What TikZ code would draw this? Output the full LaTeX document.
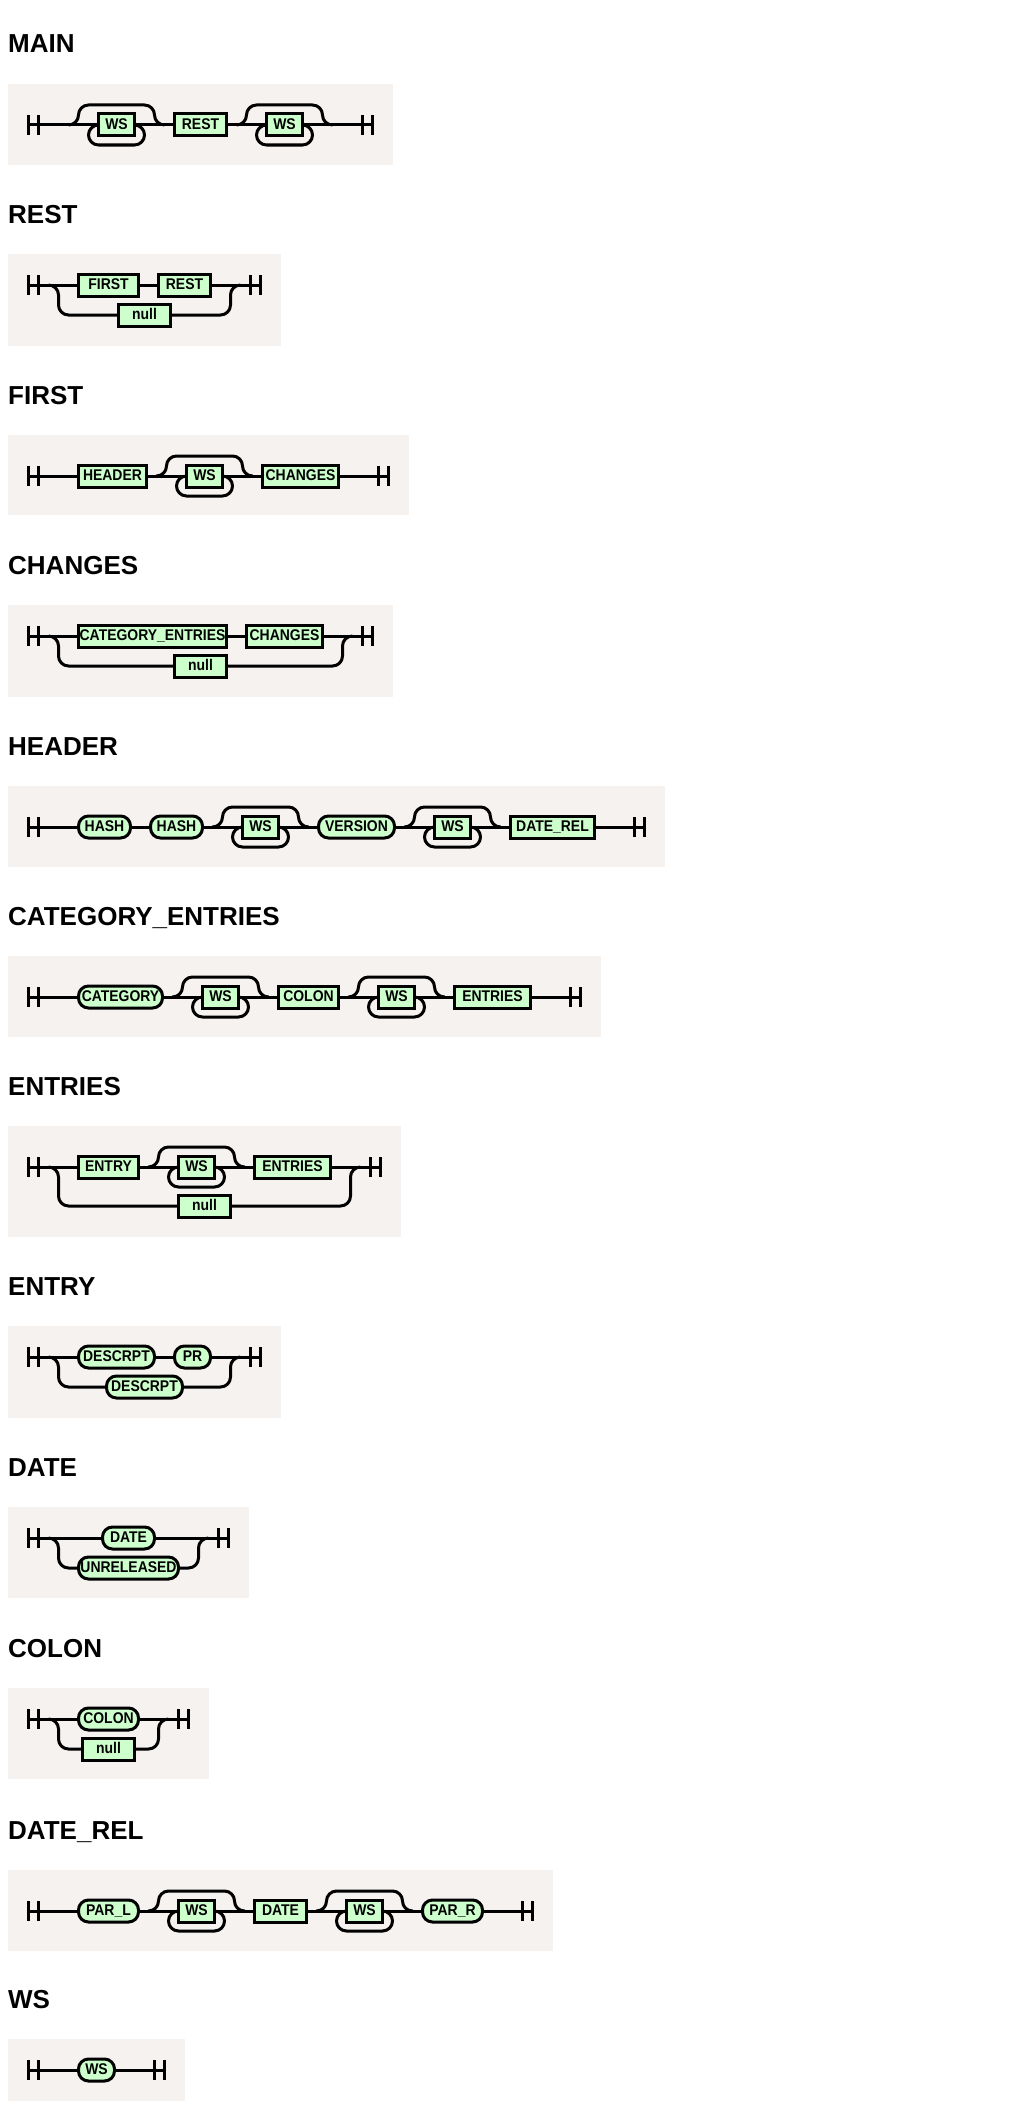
\documentclass[tikz,border=0pt]{standalone}
\usepackage{fontspec}
\setmainfont{Liberation Sans}
\newfontfamily\boxfont[FakeStretch=0.9]{Liberation Sans}
\usetikzlibrary{positioning}
\definecolor{panelgray}{RGB}{245,242,240}
\definecolor{boxgreen}{RGB}{204,255,204}
\tikzstyle{rail} = [line width=3pt, line join=round]
\tikzstyle{loop} = [rail, rounded corners=10pt]
\tikzstyle{box} = [rectangle, draw=black, fill=boxgreen, line width=3pt, minimum height=22pt, inner sep=0pt, outer sep=0pt, text height=11pt, text depth=3pt, font=\boxfont\bfseries\fontsize{15.5}{15.5}\selectfont]
\tikzstyle{nt} = [box]
\tikzstyle{term} = [box, rounded corners=10pt]
\tikzstyle{panel} = [fill=panelgray]
\tikzstyle{title} = [anchor=base west, inner sep=0pt, font=\bfseries\fontsize{26}{26}\selectfont]
\tikzset{len/.style={minimum width=8*#1+20}}
% start / end marker
\newcommand{\railbars}[1]{\draw[rail] ([yshift=10pt]#1) -- ([yshift=-10pt]#1) ([xshift=10pt,yshift=10pt]#1) -- ([xshift=10pt,yshift=-10pt]#1);}
% zero or more: skip above, repeat below
\newcommand{\wsloop}[1]{%
\draw[loop] ([xshift=-30pt]#1.west) -| ([xshift=-20pt,yshift=20pt]#1.west) -| ([xshift=20pt]#1.east) -- ([xshift=30pt]#1.east);
\draw[loop] (#1.east) -| ([xshift=10pt,yshift=-20pt]#1.east) -| ([xshift=-10pt]#1.west) -- (#1.west);}
% second branch of a choice
\newcommand{\railchoice}[4]{%
\draw[loop] ([xshift=20pt]#1) -| ([xshift=30pt,yshift=-#4pt]#1) -- (#2.west);
\draw[loop] (#2.east) -| ([xshift=-20pt]#3) -- ([xshift=-10pt]#3);}
\begin{document}
\begin{tikzpicture}[x=1pt, y=-1pt, node distance=20pt]
\useasboundingbox[fill=white] (0,0) rectangle (1024,2114);

\fill[panel] (8,84) rectangle (392.5,165);
\fill[panel] (8,254) rectangle (280.5,346);
\fill[panel] (8,435) rectangle (408.5,515);
\fill[panel] (8,605) rectangle (392.5,697);
\fill[panel] (8,786) rectangle (664.5,867);
\fill[panel] (8,956) rectangle (600.5,1037);
\fill[panel] (8,1126) rectangle (400.5,1237);
\fill[panel] (8,1326) rectangle (280.5,1418);
\fill[panel] (8,1507) rectangle (248.5,1598);
\fill[panel] (8,1688) rectangle (208.5,1779);
\fill[panel] (8,1870) rectangle (552.5,1951);
\fill[panel] (8,2039) rectangle (184.5,2101);

% MAIN
\node (ttlmain) [title] at (8,53) {MAIN};
\coordinate (mainin) at (28.5,125);
\node (mainws1) [nt, len=2, right=70pt of mainin] {WS};
\node (mainrest) [nt, len=4, right=40pt of mainws1] {REST};
\node (mainws2) [nt, len=2, right=40pt of mainrest] {WS};
\coordinate [right=60pt of mainws2] (mainout);
\draw[rail] (mainin) -- (mainws1);
\draw[rail] (mainws1) -- (mainrest);
\draw[rail] (mainrest) -- (mainws2);
\draw[rail] (mainws2) -- (mainout) -- ++(10,0);
\wsloop{mainws1}
\wsloop{mainws2}
\railbars{mainin}
\railbars{mainout}

% REST
\node (ttlrest) [title] at (8,223) {REST};
\coordinate (restin) at (28.5,285);
\node (restfirst) [nt, len=5, right=50pt of restin] {FIRST};
\node (restrest) [nt, len=4, right=of restfirst] {REST};
\node (restnull) [nt, len=4] at (144.5,315) {null};
\coordinate [right=40pt of restrest] (restout);
\draw[rail] (restin) -- (restfirst);
\draw[rail] (restfirst) -- (restrest);
\draw[rail] (restrest) -- (restout) -- ++(10,0);
\railchoice{restin}{restnull}{restout}{30}
\railbars{restin}
\railbars{restout}

% FIRST
\node (ttlfirst) [title] at (8,404) {FIRST};
\coordinate (firstin) at (28.5,476);
\node (firstheader) [nt, len=6, right=50pt of firstin] {HEADER};
\node (firstws) [nt, len=2, right=40pt of firstheader] {WS};
\node (firstchanges) [nt, len=7, right=40pt of firstws] {CHANGES};
\coordinate [right=40pt of firstchanges] (firstout);
\draw[rail] (firstin) -- (firstheader);
\draw[rail] (firstheader) -- (firstws);
\draw[rail] (firstws) -- (firstchanges);
\draw[rail] (firstchanges) -- (firstout) -- ++(10,0);
\wsloop{firstws}
\railbars{firstin}
\railbars{firstout}

% CHANGES
\node (ttlchg) [title] at (8,574) {CHANGES};
\coordinate (chgin) at (28.5,636);
\node (chgcat) [nt, len=16, right=50pt of chgin] {CATEGORY\_ENTRIES};
\node (chgchanges) [nt, len=7, right=of chgcat] {CHANGES};
\node (chgnull) [nt, len=4] at (200.5,666) {null};
\coordinate [right=40pt of chgchanges] (chgout);
\draw[rail] (chgin) -- (chgcat);
\draw[rail] (chgcat) -- (chgchanges);
\draw[rail] (chgchanges) -- (chgout) -- ++(10,0);
\railchoice{chgin}{chgnull}{chgout}{30}
\railbars{chgin}
\railbars{chgout}

% HEADER
\node (ttlhdr) [title] at (8,755) {HEADER};
\coordinate (hdrin) at (28.5,827);
\node (hdrhash1) [term, len=4, right=50pt of hdrin] {HASH};
\node (hdrhash2) [term, len=4, right=of hdrhash1] {HASH};
\node (hdrws1) [nt, len=2, right=40pt of hdrhash2] {WS};
\node (hdrversion) [term, len=7, right=40pt of hdrws1] {VERSION};
\node (hdrws2) [nt, len=2, right=40pt of hdrversion] {WS};
\node (hdrdaterel) [nt, len=8, right=40pt of hdrws2] {DATE\_REL};
\coordinate [right=40pt of hdrdaterel] (hdrout);
\draw[rail] (hdrin) -- (hdrhash1);
\draw[rail] (hdrhash1) -- (hdrhash2);
\draw[rail] (hdrhash2) -- (hdrws1);
\draw[rail] (hdrws1) -- (hdrversion);
\draw[rail] (hdrversion) -- (hdrws2);
\draw[rail] (hdrws2) -- (hdrdaterel);
\draw[rail] (hdrdaterel) -- (hdrout) -- ++(10,0);
\wsloop{hdrws1}
\wsloop{hdrws2}
\railbars{hdrin}
\railbars{hdrout}

% CATEGORY_ENTRIES
\node (ttlcat) [title] at (8,925) {CATEGORY\_ENTRIES};
\coordinate (catin) at (28.5,997);
\node (catcategory) [term, len=8, right=50pt of catin] {CATEGORY};
\node (catws1) [nt, len=2, right=40pt of catcategory] {WS};
\node (catcolon) [nt, len=5, right=40pt of catws1] {COLON};
\node (catws2) [nt, len=2, right=40pt of catcolon] {WS};
\node (catentries) [nt, len=7, right=40pt of catws2] {ENTRIES};
\coordinate [right=40pt of catentries] (catout);
\draw[rail] (catin) -- (catcategory);
\draw[rail] (catcategory) -- (catws1);
\draw[rail] (catws1) -- (catcolon);
\draw[rail] (catcolon) -- (catws2);
\draw[rail] (catws2) -- (catentries);
\draw[rail] (catentries) -- (catout) -- ++(10,0);
\wsloop{catws1}
\wsloop{catws2}
\railbars{catin}
\railbars{catout}

% ENTRIES
\node (ttlents) [title] at (8,1095) {ENTRIES};
\coordinate (entsin) at (28.5,1167);
\node (entsentry) [nt, len=5, right=50pt of entsin] {ENTRY};
\node (entsws) [nt, len=2, right=40pt of entsentry] {WS};
\node (entsentries) [nt, len=7, right=40pt of entsws] {ENTRIES};
\node (entsnull) [nt, len=4] at (204.5,1206) {null};
\coordinate [right=40pt of entsentries] (entsout);
\draw[rail] (entsin) -- (entsentry);
\draw[rail] (entsentry) -- (entsws);
\draw[rail] (entsws) -- (entsentries);
\draw[rail] (entsentries) -- (entsout) -- ++(10,0);
\wsloop{entsws}
\railchoice{entsin}{entsnull}{entsout}{39}
\railbars{entsin}
\railbars{entsout}

% ENTRY
\node (ttlent) [title] at (8,1295) {ENTRY};
\coordinate (entin) at (28.5,1357);
\node (entdescrpt) [term, len=7, right=50pt of entin] {DESCRPT};
\node (entpr) [term, len=2, right=of entdescrpt] {PR};
\node (entdescrptb) [term, len=7] at (144.5,1387) {DESCRPT};
\coordinate [right=40pt of entpr] (entout);
\draw[rail] (entin) -- (entdescrpt);
\draw[rail] (entdescrpt) -- (entpr);
\draw[rail] (entpr) -- (entout) -- ++(10,0);
\railchoice{entin}{entdescrptb}{entout}{30}
\railbars{entin}
\railbars{entout}

% DATE
\node (ttldate) [title] at (8,1476) {DATE};
\coordinate (datein) at (28.5,1538);
\node (datedate) [term, len=4, right=74pt of datein] {DATE};
\node (dateunrel) [term, len=10, below=8pt of datedate] {UNRELEASED};
\coordinate [right=64pt of datedate] (dateout);
\draw[rail] (datein) -- (datedate);
\draw[rail] (datedate) -- (dateout) -- ++(10,0);
\railchoice{datein}{dateunrel}{dateout}{30}
\railbars{datein}
\railbars{dateout}

% COLON
\node (ttlcol) [title] at (8,1657) {COLON};
\coordinate (colin) at (28.5,1719);
\node (colcolon) [term, len=5, right=50pt of colin] {COLON};
\node (colnull) [nt, len=4, below=8pt of colcolon] {null};
\coordinate [right=40pt of colcolon] (colout);
\draw[rail] (colin) -- (colcolon);
\draw[rail] (colcolon) -- (colout) -- ++(10,0);
\railchoice{colin}{colnull}{colout}{30}
\railbars{colin}
\railbars{colout}

% DATE_REL
\node (ttldrel) [title] at (8,1839) {DATE\_REL};
\coordinate (drelin) at (28.5,1911);
\node (drelparl) [term, len=5, right=50pt of drelin] {PAR\_L};
\node (drelws1) [nt, len=2, right=40pt of drelparl] {WS};
\node (dreldate) [nt, len=4, right=40pt of drelws1] {DATE};
\node (drelws2) [nt, len=2, right=40pt of dreldate] {WS};
\node (drelparr) [term, len=5, right=40pt of drelws2] {PAR\_R};
\coordinate [right=40pt of drelparr] (drelout);
\draw[rail] (drelin) -- (drelparl);
\draw[rail] (drelparl) -- (drelws1);
\draw[rail] (drelws1) -- (dreldate);
\draw[rail] (dreldate) -- (drelws2);
\draw[rail] (drelws2) -- (drelparr);
\draw[rail] (drelparr) -- (drelout) -- ++(10,0);
\wsloop{drelws1}
\wsloop{drelws2}
\railbars{drelin}
\railbars{drelout}

% WS
\node (ttlws) [title] at (8,2008) {WS};
\coordinate (wsin) at (28.5,2070);
\node (wsws) [term, len=2, right=50pt of wsin] {WS};
\coordinate [right=40pt of wsws] (wsout);
\draw[rail] (wsin) -- (wsws);
\draw[rail] (wsws) -- (wsout) -- ++(10,0);
\railbars{wsin}
\railbars{wsout}
\end{tikzpicture}
\end{document}
